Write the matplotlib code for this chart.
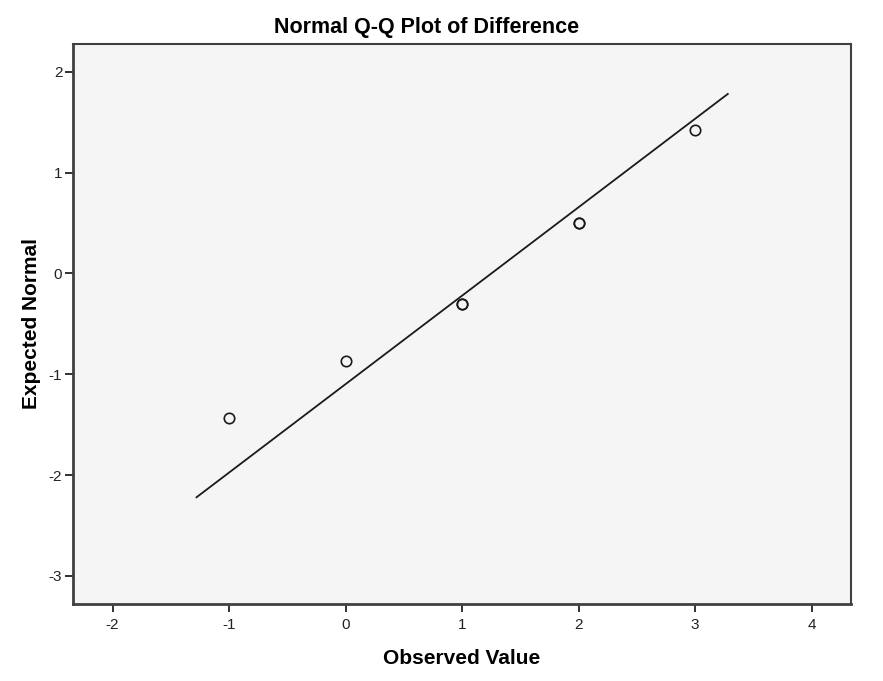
import numpy as np
import matplotlib
matplotlib.use("Agg")
import matplotlib.pyplot as plt

plt.rcParams['font.family'] = ['Liberation Sans', 'DejaVu Sans']
plt.rcParams['axes.unicode_minus'] = False

# observed values (ties repeated) and their expected normal scores
observed = [-1, 0, 1, 1, 2, 2, 3]
expected = [-1.43, -0.87, -0.30, -0.30, 0.50, 0.50, 1.42]

# reference line end points
line_x = [-1.28, 3.28]
line_y = [-2.22, 1.78]

x_ticks = [-2, -1, 0, 1, 2, 3, 4]
y_ticks = [-3, -2, -1, 0, 1, 2]

fig = plt.figure(figsize=(8.83, 6.81), dpi=100)
ax = fig.add_axes([0.0832, 0.1131, 0.88, 0.823])
ax.set_facecolor('#f5f5f5')

ax.plot(line_x, line_y, color='#1a1a1a', lw=1.3)
ax.plot(observed, expected, 'o', mfc='none', mec='#1a1a1a', ms=7.5, mew=1.2)

ax.set_xlim(-2.336, 4.333)
ax.set_ylim(-3.278, 2.28)
ax.set_xticks(x_ticks)
ax.set_yticks(y_ticks)
ax.tick_params(direction='out', length=6, width=1.3, labelsize=11,
               colors='#222222', pad=2)
ax.tick_params(axis='x', pad=4)

for s in ax.spines.values():
    s.set_color('#404040')
    s.set_linewidth(1.5)
ax.spines['left'].set_linewidth(2)
ax.spines['bottom'].set_linewidth(2)

ax.set_xlabel('Observed Value', fontsize=15, fontweight='bold', labelpad=12)
ax.set_ylabel('Expected Normal', fontsize=15, fontweight='bold', labelpad=6)
fig.text(427 / 883, 0.960, 'Normal Q-Q Plot of Difference', ha='center',
         va='center', fontsize=15.5, fontweight='bold')

fig.savefig('out.png', dpi=100, facecolor='white')
